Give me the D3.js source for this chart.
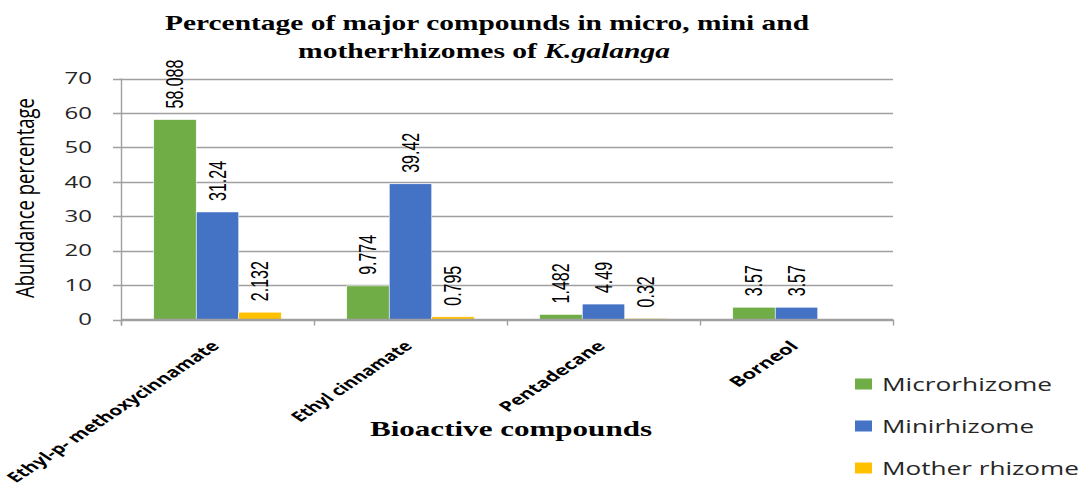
<!DOCTYPE html>
<html>
<head>
<meta charset="utf-8">
<script src="https://cdn.jsdelivr.net/npm/d3@7"></script>
<style>
  html, body { margin: 0; padding: 0; background: #fff; }
  svg { display: block; }
</style>
</head>
<body>
<svg id="chart" width="1083" height="485"></svg>
<script>
// Bioactive compounds and their abundance (%) in each rhizome type
const compounds = ["Ethyl-p- methoxycinnamate", "Ethyl cinnamate", "Pentadecane", "Borneol"];
const seriesNames = ["Microrhizome", "Minirhizome", "Mother rhizome"];
const microrhizome = [58.088, 9.774, 1.482, 3.57];
const minirhizome = [31.24, 39.42, 4.49, 3.57];
const motherRhizome = [2.132, 0.795, 0.32, null];
const yTicks = [0, 10, 20, 30, 40, 50, 60, 70];
const seriesColors = ["#70AD47", "#4472C4", "#FFC000"];

const seriesValues = [microrhizome, minirhizome, motherRhizome];

const svg = d3.select("#chart");
const SX = 1.5; // horizontal stretch applied to the chart's text

const plot = { left: 121, right: 893, top: 78.5, bottom: 319.5 };

const x0 = d3.scaleBand().domain(compounds).range([plot.left, plot.right]).paddingInner(0).paddingOuter(0);
const x1 = d3.scaleBand().domain(seriesNames).range([0, x0.bandwidth()]).paddingInner(0).paddingOuter(0.77);
const y = d3.scaleLinear().domain([0, 70]).range([plot.bottom, plot.top]);

// Horizontal gridlines (extending left past the axis as tick marks)
svg.append("g")
  .selectAll("line")
  .data(yTicks)
  .join("line")
  .attr("x1", plot.left - 8)
  .attr("x2", plot.right)
  .attr("y1", d => Math.round(y(d)) + 0.5)
  .attr("y2", d => Math.round(y(d)) + 0.5)
  .attr("stroke", "#A0A0A0")
  .attr("stroke-width", 1.4);

// Y tick labels
svg.append("g")
  .selectAll("text")
  .data(yTicks)
  .join("text")
  .attr("transform", d => `translate(92,${y(d)}) scale(${SX},1)`)
  .attr("text-anchor", "end")
  .attr("dy", "0.36em")
  .attr("font-family", "'Open Sans', 'Liberation Sans', sans-serif")
  .attr("font-size", 16)
  .attr("fill", "#262626")
  .text(d => d);

// Bars
const groups = svg.append("g")
  .selectAll("g")
  .data(compounds)
  .join("g")
  .attr("transform", d => `translate(${x0(d)},0)`);

const barData = (c, i) => seriesNames
  .map((s, k) => ({ s, k, v: seriesValues[k][i] }))
  .filter(d => d.v != null);

groups.selectAll("rect")
  .data(barData)
  .join("rect")
  .attr("x", d => x1(d.s))
  .attr("width", x1.bandwidth())
  .attr("y", d => y(d.v))
  .attr("height", d => y(0) - y(d.v))
  .attr("fill", d => seriesColors[d.k])
  .attr("stroke", "#ffffff")
  .attr("stroke-width", 0.6);

// Value labels above bars
groups.selectAll("text")
  .data(barData)
  .join("text")
  .attr("transform", d => `translate(${x1(d.s) + x1.bandwidth() / 2},${y(d.v) - 11}) scale(${SX},1) rotate(-90)`)
  .attr("text-anchor", "start")
  .attr("dy", "0.35em")
  .attr("font-family", "'Liberation Sans', Arial, sans-serif")
  .attr("font-size", 16)
  .attr("fill", "#000")
  .text(d => d.v);

// Axis lines
svg.append("line")
  .attr("x1", plot.left + 0.5).attr("x2", plot.left + 0.5)
  .attr("y1", plot.top).attr("y2", plot.bottom + 6)
  .attr("stroke", "#A0A0A0").attr("stroke-width", 1.4);
svg.append("line")
  .attr("x1", plot.left).attr("x2", plot.right)
  .attr("y1", plot.bottom).attr("y2", plot.bottom)
  .attr("stroke", "#A0A0A0").attr("stroke-width", 1.4);
const boundaries = compounds.map(c => x0(c)).concat([plot.right]);
svg.append("g")
  .selectAll("line")
  .data(boundaries)
  .join("line")
  .attr("x1", d => Math.round(d) + 0.5).attr("x2", d => Math.round(d) + 0.5)
  .attr("y1", plot.bottom).attr("y2", plot.bottom + 6)
  .attr("stroke", "#A0A0A0").attr("stroke-width", 1.4);

// Category labels, slanted
const catLengths = [193, 107, 93, 58];
svg.append("g")
  .selectAll("text")
  .data(compounds)
  .join("text")
  .attr("transform", d => `translate(${x0(d) + x0.bandwidth() / 2 + 3},${347}) scale(${SX},1) rotate(-45)`)
  .attr("text-anchor", "end")
  .attr("font-family", "'Open Sans', 'Liberation Sans', sans-serif")
  .attr("font-weight", "bold")
  .attr("font-size", 14)
  .attr("fill", "#000")
  .attr("textLength", (d, i) => catLengths[i])
  .attr("lengthAdjust", "spacingAndGlyphs")
  .text(d => d);

// Y axis title
svg.append("text")
  .attr("transform", `translate(25,198) scale(${SX},1) rotate(-90)`)
  .attr("text-anchor", "middle")
  .attr("dy", "0.35em")
  .attr("font-family", "'Open Sans', 'Liberation Sans', sans-serif")
  .attr("font-size", 17)
  .attr("fill", "#000")
  .attr("textLength", 200)
  .attr("lengthAdjust", "spacingAndGlyphs")
  .text("Abundance percentage");

// X axis title
svg.append("text")
  .attr("x", 511).attr("y", 436)
  .attr("text-anchor", "middle")
  .attr("font-family", "'Liberation Serif', 'Times New Roman', serif")
  .attr("font-weight", "bold")
  .attr("font-size", 22)
  .attr("fill", "#000")
  .attr("textLength", 282)
  .attr("lengthAdjust", "spacingAndGlyphs")
  .text("Bioactive compounds");

// Chart title
const title = svg.append("g")
  .attr("font-family", "'Liberation Serif', 'Times New Roman', serif")
  .attr("font-weight", "bold")
  .attr("font-size", 22)
  .attr("fill", "#000")
  .attr("text-anchor", "middle");
title.append("text")
  .attr("x", 487).attr("y", 30)
  .attr("textLength", 644)
  .attr("lengthAdjust", "spacingAndGlyphs")
  .text("Percentage of major compounds in micro, mini and");
const line2 = title.append("text")
  .attr("x", 484).attr("y", 58)
  .attr("textLength", 372)
  .attr("lengthAdjust", "spacingAndGlyphs");
line2.append("tspan").text("motherrhizomes of ");
line2.append("tspan").attr("font-style", "italic").text("K.galanga");

// Legend
const legendRows = [384, 426, 468];
const legendLengths = [170, 152, 197];
const legend = svg.append("g")
  .selectAll("g")
  .data(seriesNames)
  .join("g")
  .attr("transform", (d, i) => `translate(855,${legendRows[i]})`);
legend.append("rect")
  .attr("x", 0).attr("y", -5.5)
  .attr("width", 17).attr("height", 11)
  .attr("fill", (d, i) => seriesColors[i]);
legend.append("text")
  .attr("x", 27)
  .attr("dy", "0.36em")
  .attr("font-family", "'Open Sans', 'Liberation Sans', sans-serif")
  .attr("font-size", 19)
  .attr("fill", "#262626")
  .attr("textLength", (d, i) => legendLengths[i])
  .attr("lengthAdjust", "spacingAndGlyphs")
  .text(d => d);
</script>
</body>
</html>
